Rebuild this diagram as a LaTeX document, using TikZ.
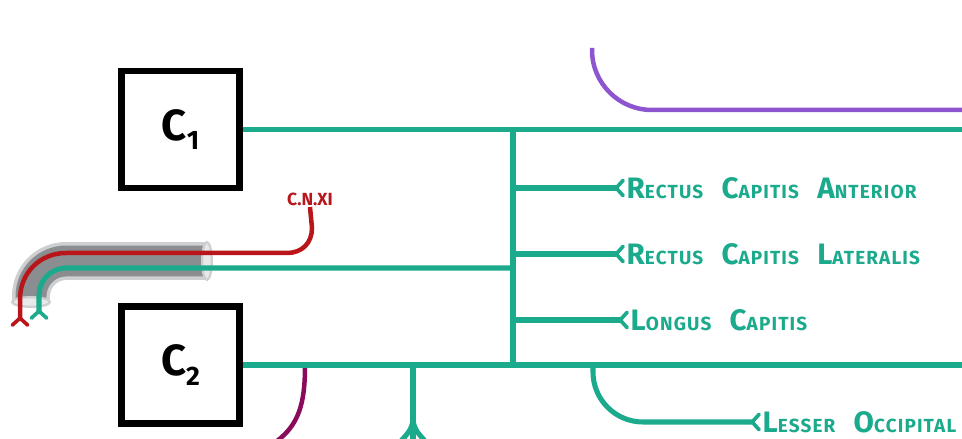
\documentclass[tikz,border=0pt]{standalone}
\usepackage{fontspec}
\setmainfont{Fira Sans}
\usetikzlibrary{arrows.meta,positioning}
\definecolor{nerveteal}{HTML}{1BAA8C}
\definecolor{nervered}{HTML}{B8161B}
\definecolor{nervepurple}{HTML}{8E55D0}
\definecolor{nervewine}{HTML}{8A0B5C}
\definecolor{sheathgray}{HTML}{8B8E90}
\definecolor{sheathrim}{HTML}{CDCFD0}
% big first letter, small capitals after it
\newcommand{\capw}[2]{{\fontsize{21}{21}\selectfont #1}#2}
\newcommand{\wgap}{\hspace{13pt}}
\tikzset{
  nfork/.tip={Straight Barb[reversed, length=5pt, width=11pt, line width=2.6pt, round]},
  vbox/.style={draw, line width=4.6pt, minimum width=2.95cm,
    minimum height=2.92cm, inner sep=0pt, font=\fontsize{31}{31}\selectfont\bfseries},
  nerve/.style={draw=nerveteal, line width=3.6pt},
  rednerve/.style={draw=nervered, line width=3.2pt},
  winenerve/.style={draw=nervewine, line width=3.2pt},
  purplenerve/.style={draw=nervepurple, line width=3.2pt},
  mlabel/.style={anchor=west, inner sep=1pt, text=nerveteal,
    font=\fontsize{13.5}{14}\selectfont\bfseries\addfontfeature{LetterSpace=6}},
}

\begin{document}
\begin{tikzpicture}[x=0.025cm, y=-0.025cm]
  \useasboundingbox (0,0) rectangle (962,439);

  % vertebral boxes
  \node[vbox] (c1) at (180.5,129.5) {C\raisebox{-7pt}{\fontsize{19}{19}\selectfont 1}};
  \node[vbox] (c2) at (180.5,365) {C\raisebox{-7pt}{\fontsize{19}{19}\selectfont 2}};

  % muscle and nerve labels
  \node[mlabel] (rca) at (625,188) {\capw{R}{ECTUS}\wgap\capw{C}{APITIS}\wgap\capw{A}{NTERIOR}};
  \node[mlabel] (rcl) at (625,254) {\capw{R}{ECTUS}\wgap\capw{C}{APITIS}\wgap\capw{L}{ATERALIS}};
  \node[mlabel] (lc) at (629,320) {\capw{L}{ONGUS}\wgap\capw{C}{APITIS}};
  \node[mlabel] (lo) at (761,422) {\capw{L}{ESSER}\wgap\capw{O}{CCIPITAL}};
  \node[text=nervered, inner sep=1pt, font=\fontsize{12.5}{13}\selectfont\bfseries]
    (cn11) at (310,199) {C.N.XI};

  % junctions on the loops
  \coordinate (t1) at (513,129.5);
  \coordinate (t2) at (513,365);
  \coordinate (b0) at (513,268);
  \coordinate (b1) at (513,188);
  \coordinate (b2) at (513,254);
  \coordinate (b3) at (513,320);
  \coordinate (e1) at (962,129.5);
  \coordinate (e2) at (962,365);

  % sheath round the accessory nerve
  \draw[sheathrim, line width=27pt, rounded corners=0.88cm] (207,261) -| (31,301);
  \draw[sheathgray, line width=22pt, rounded corners=0.88cm] (207,261) -| (31,301);
  \draw[sheathrim, line width=1.6pt, fill=white!80!sheathgray]
    (207,261) ellipse [x radius=0.12cm, y radius=0.47cm];
  \draw[sheathrim, line width=1.6pt, fill=white!80!sheathgray]
    (31,302) ellipse [x radius=0.47cm, y radius=0.12cm];

  % C.N. XI
  \draw[rednerve, -nfork] (cn11.south) -- (312,228)
    .. controls (312,243) and (302,253) .. (287,253) -- (66,253)
    .. controls (40,253) and (20,273) .. (20,299) -- (20,327);

  % branches below C2
  \draw[winenerve] (305,366) .. controls (305,405) and (298,425) .. (277,441);
  \draw[nerve] (413,365) -- (413,418) -- (413,441);
  \draw[nerve] (413,418) .. controls (413,430) and (405,436) .. (401,441);
  \draw[nerve] (413,418) .. controls (413,430) and (421,436) .. (425,441);

  % top loop
  \draw[purplenerve, rounded corners=1.5cm] (592,48) |- (962,110);

  % C1 and C2 loops
  \draw[nerve] (c1.east) -- (e1);
  \draw[nerve] (c2.east) -- (e2);
  \draw[nerve] (t1) -- (t2);
  \draw[nerve, rounded corners=0.68cm, -nfork] (b0) -| (39,320);
  \draw[nerve, -nfork] (b1) -- (rca.west);
  \draw[nerve, -nfork] (b2) -- (rcl.west);
  \draw[nerve, -nfork] (b3) -- (lc.west);
  \draw[nerve, rounded corners=1.25cm, -nfork] (593,365) |- (lo.west);
\end{tikzpicture}
\end{document}
